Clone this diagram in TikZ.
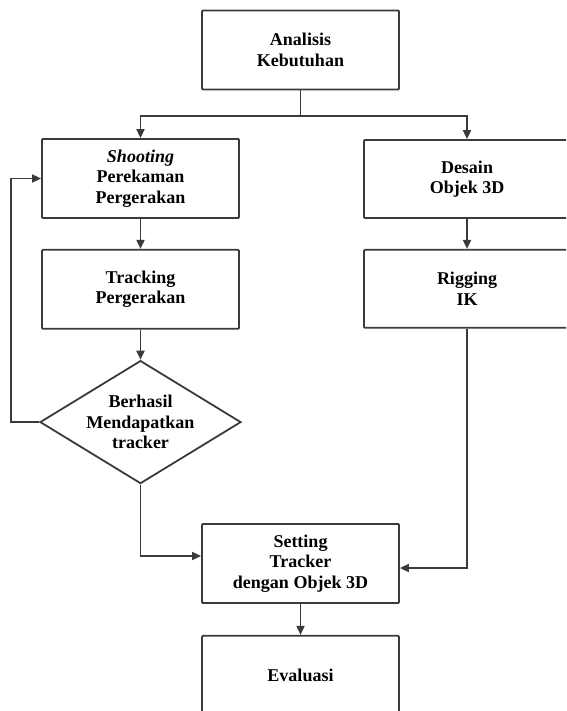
\documentclass[tikz,border=0pt]{standalone}
\usepackage{fontspec}
\setmainfont{Liberation Serif}
\definecolor{lineGray}{HTML}{3A3A3A}
\usepackage{tikz}
\usetikzlibrary{arrows.meta,positioning,calc,shapes.geometric}

\begin{document}
\begin{tikzpicture}[
    x=1pt, y=-1pt,
    node distance=30pt,
    box/.style={draw=lineGray, line width=1.8pt, rounded corners=1pt,
                minimum width=197pt, minimum height=79pt, align=center,
                font=\bfseries\fontsize{18}{20.5}\selectfont},
    decision/.style={draw=lineGray, line width=1.8pt, diamond, aspect=1.63,
                inner sep=0pt, minimum width=201pt, minimum height=123pt,
                align=center, font=\bfseries\fontsize{18}{20.5}\selectfont},
    arr/.style={-{Triangle[length=9pt, width=8pt]}, line width=1.8pt, lineGray}
  ]
    \useasboundingbox (0,0) rectangle (566,711);
    \clip (0,0) rectangle (566,711);

    \node[box] (analisis) at (300.5,50) {Analisis\\Kebutuhan};

    % Left branch
    \node[box] (shooting) at (140.5,178.5)
      {\textit{Shooting}\\Perekaman\\Pergerakan};
    \node[box, below=of shooting] (tracking) {Tracking\\Pergerakan};
    \node[decision, below=of tracking] (cek)
      {Berhasil\\Mendapatkan\\tracker};

    % Right branch
    \node[box, minimum width=206pt, minimum height=78pt] (desain) at (467,179)
      {Desain\\Objek 3D};
    \node[box, minimum width=206pt, minimum height=78pt, below=of desain] (rigging)
      {Rigging\\IK};

    % Merge
    \node[box] (setting) at (300.5,563.5)
      {Setting\\Tracker\\dengan Objek 3D};
    \node[box, below=31pt of setting] (evaluasi) {Evaluasi};

    \coordinate (split) at ($(analisis.south)+(0,26)$);
    \draw[line width=1.8pt, lineGray] (analisis.south) -- (split);
    \draw[arr] (split) -| (shooting.north);
    \draw[arr] (split) -| (desain.north);

    \draw[arr] (shooting) -- (tracking);
    \draw[arr] (tracking) -- (cek);
    \draw[arr] (desain) -- (rigging);

    % Loop back when tracking fails
    \draw[arr] (cek.west) -- ++(-28,0) |- (shooting.west);

    \draw[arr] (cek.south) |- ([yshift=7.5pt]setting.west);
    \draw[arr] (rigging.south) |- ([yshift=-4.5pt]setting.east);
    \draw[arr] (setting) -- (evaluasi);
  \end{tikzpicture}
\end{document}
